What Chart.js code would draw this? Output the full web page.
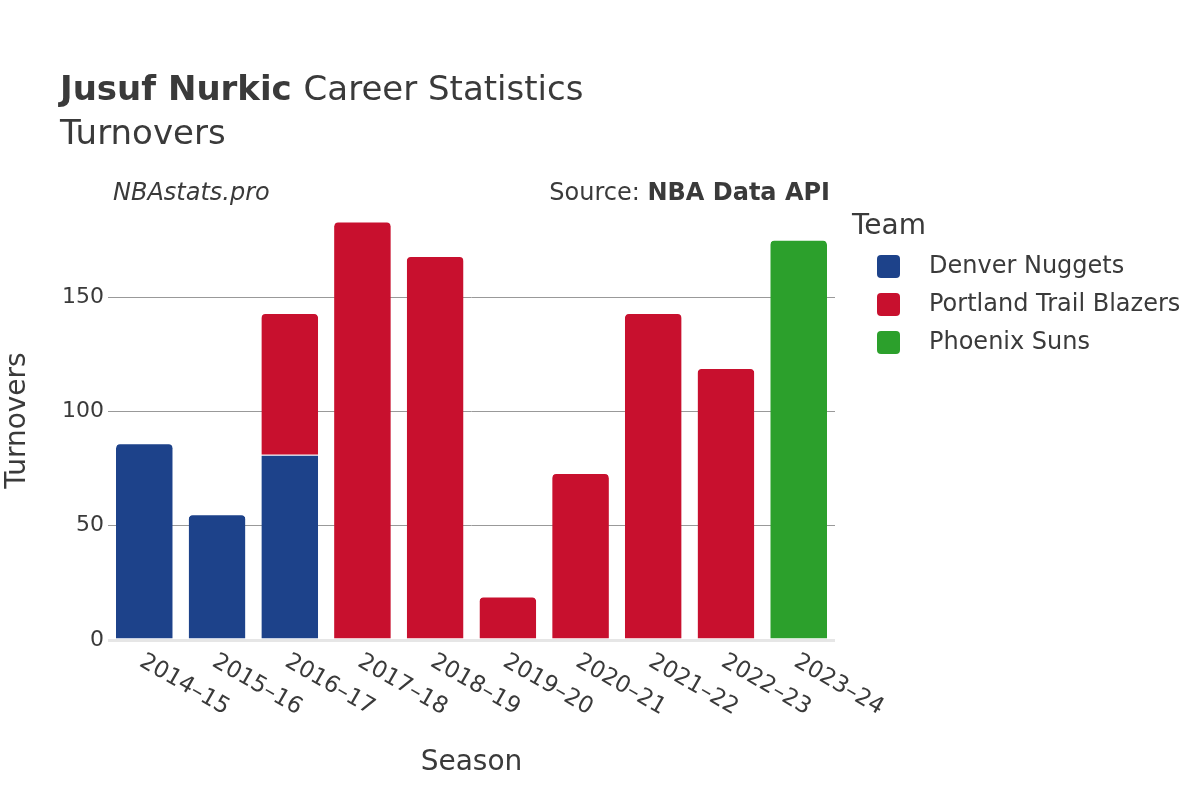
<!DOCTYPE html>
<html>
<head>
<meta charset="utf-8">
<script src="https://cdn.jsdelivr.net/npm/chart.js@4.4.1/dist/chart.umd.min.js"></script>
<style>
  body { margin: 0; background: #fff; }
  #wrap { width: 1200px; height: 800px; position: relative; }
</style>
</head>
<body>
<div id="wrap"><canvas id="chart" width="1200" height="800"></canvas></div>
<script>
const seasons = ["2014–15", "2015–16", "2016–17", "2017–18", "2018–19", "2019–20", "2020–21", "2021–22", "2022–23", "2023–24"];
const denver   = [86, 55, 81, null, null, null, null, null, null, null];
const portland = [null, null, 62, 183, 168, 19, 73, 143, 119, null];
const phoenix  = [null, null, null, null, null, null, null, null, null, 175];
const teams = ["Denver Nuggets", "Portland Trail Blazers", "Phoenix Suns"];
const teamColors = ["#1d428a", "#c8102e", "#2ca02c"];
const yTicks = [0, 50, 100, 150];

const FONT = "'DejaVu Sans', sans-serif";
const TXT = "#3a3a3a";

// titles, rotated x labels, legend
const decorPlugin = {
    id: "decor",
    afterDraw(chart) {
        const { ctx, chartArea } = chart;
        const xScale = chart.scales.x;
        ctx.save();
        ctx.fillStyle = TXT;
        ctx.textBaseline = "alphabetic";

        ctx.font = `bold 34px ${FONT}`;
        ctx.textAlign = "left";
        ctx.fillText("Jusuf Nurkic", 60, 100);
        const w = ctx.measureText("Jusuf Nurkic ").width;
        ctx.font = `34px ${FONT}`;
        ctx.fillText("Career Statistics", 60 + w, 100);
        ctx.fillText("Turnovers", 60, 144);

        ctx.font = `italic 24px ${FONT}`;
        ctx.fillText("NBAstats.pro", 113, 200);

        ctx.textAlign = "right";
        ctx.font = `bold 24px ${FONT}`;
        ctx.fillText("NBA Data API", 830, 200);
        const bw = ctx.measureText("NBA Data API").width;
        ctx.font = `24px ${FONT}`;
        ctx.fillText("Source: ", 830 - bw, 200);

        // axis titles
        ctx.font = `28px ${FONT}`;
        ctx.textAlign = "center";
        ctx.fillText("Season", (chartArea.left + chartArea.right) / 2, 770);
        ctx.save();
        ctx.translate(18, (chartArea.top + chartArea.bottom) / 2);
        ctx.rotate(-Math.PI / 2);
        ctx.textBaseline = "middle";
        ctx.fillText("Turnovers", 0, 0);
        ctx.restore();

        // x tick labels, rotated 30deg clockwise
        ctx.font = `23px ${FONT}`;
        ctx.textAlign = "left";
        ctx.textBaseline = "middle";
        seasons.forEach((s, i) => {
            const x = xScale.getPixelForTick(i);
            ctx.save();
            ctx.translate(x - 3, chartArea.bottom + 20);
            ctx.rotate(Math.PI / 6);
            ctx.fillText(s, 0, 0);
            ctx.restore();
        });

        // legend
        ctx.textAlign = "left";
        ctx.textBaseline = "middle";
        ctx.font = `28px ${FONT}`;
        ctx.fillText("Team", 852, 227);
        ctx.font = `24px ${FONT}`;
        chart.data.datasets.forEach((ds, i) => {
            const cy = 266 + i * 38;
            ctx.fillStyle = ds.backgroundColor;
            ctx.beginPath();
            ctx.roundRect(877, cy - 11, 23, 23, 4);
            ctx.fill();
            ctx.fillStyle = TXT;
            ctx.fillText(ds.label, 929, cy + 1);
        });
        ctx.restore();
    }
};

const seriesData = [denver, portland, phoenix];

new Chart(document.getElementById("chart"), {
    type: "bar",
    data: {
        labels: seasons,
        datasets: teams.map((t, i) => ({
            label: t,
            data: seriesData[i],
            backgroundColor: teamColors[i],
            borderColor: "rgba(255,255,255,0.8)",
            borderWidth: { top: 1, left: 0, right: 0, bottom: 0 },
            borderRadius: 5,
            borderSkipped: "start",
            barPercentage: 0.78,
            categoryPercentage: 1.0,
        })),
    },
    options: {
        responsive: false,
        animation: false,
        layout: { padding: { left: 60, right: 365, top: 201, bottom: 160 } },
        plugins: {
            legend: { display: false },
            tooltip: { enabled: false },
        },
        scales: {
            x: {
                stacked: true,
                grid: { display: false },
                border: { display: false },
                ticks: { display: false },
                afterFit(scale) { scale.height = 0; },
            },
            y: {
                stacked: true,
                min: 0,
                max: 192,
                afterFit(scale) { scale.width = 48; },
                afterBuildTicks(scale) { scale.ticks = yTicks.map(v => ({ value: v })); },
                border: { display: false },
                grid: {
                    color: ctx => ctx.tick && ctx.tick.value === 0 ? "#e6e6e6" : "#999",
                    lineWidth: ctx => ctx.tick && ctx.tick.value === 0 ? 3 : 1,
                    drawTicks: false,
                },
                ticks: {
                    color: TXT,
                    font: { family: FONT, size: 22 },
                    padding: 4,
                },
            },
        },
    },
    plugins: [decorPlugin],
});
</script>
</body>
</html>
